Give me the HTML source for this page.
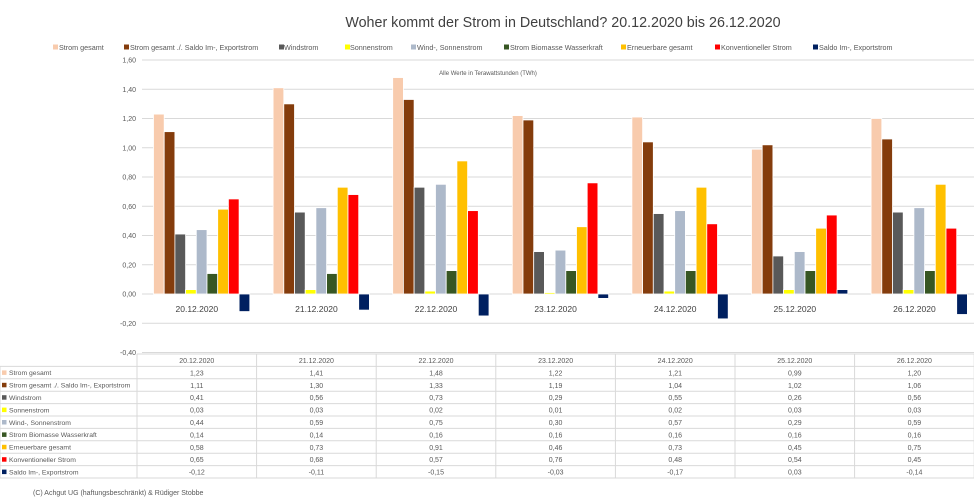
<!DOCTYPE html>
<html><head><meta charset="utf-8"><style>
html,body{margin:0;padding:0;background:#fff;width:974px;height:502px;overflow:hidden;font-family:"Liberation Sans",sans-serif}
svg text{font-family:"Liberation Sans",sans-serif;fill:#595959}
</style></head><body>
<svg id="s" width="974" height="502" xmlns="http://www.w3.org/2000/svg"></svg>
<script>
const s=document.getElementById('s');
let h='';
const cols=['#F8CBAD','#843C0C','#595959','#FFFF00','#ADB9CA','#375623','#FFC000','#FF0000','#002060'];
const names=['Strom gesamt','Strom gesamt ./. Saldo Im-, Exportstrom','Windstrom','Sonnenstrom','Wind-, Sonnenstrom','Strom Biomasse Wasserkraft','Erneuerbare gesamt','Konventioneller Strom','Saldo Im-, Exportstrom'];
const dates=['20.12.2020','21.12.2020','22.12.2020','23.12.2020','24.12.2020','25.12.2020','26.12.2020'];
const d=[[1.23,1.11,0.41,0.03,0.44,0.14,0.58,0.65,-0.12],[1.41,1.30,0.56,0.03,0.59,0.14,0.73,0.68,-0.11],[1.48,1.33,0.73,0.02,0.75,0.16,0.91,0.57,-0.15],[1.22,1.19,0.29,0.01,0.30,0.16,0.46,0.76,-0.03],[1.21,1.04,0.55,0.02,0.57,0.16,0.73,0.48,-0.17],[0.99,1.02,0.26,0.03,0.29,0.16,0.45,0.54,0.03],[1.20,1.06,0.56,0.03,0.59,0.16,0.75,0.45,-0.14]];
const f=v=>v.toFixed(2).replace('.',',');
h+='<text x="563" y="27" text-anchor="middle" font-size="14.3" style="fill:#404040">Woher kommt der Strom in Deutschland? 20.12.2020 bis 26.12.2020</text>';
const lx=[[53,59],[124,130],[279,284],[345,350],[411,417],[504,510],[621,627],[715,721],[813,819]];
lx.forEach((p,i)=>{h+=`<rect x="${p[0]}" y="44.5" width="5" height="5" fill="${cols[i]}"/><text x="${p[1]}" y="50" font-size="7.2">${names[i]}</text>`});
const z=294,k=146.25,x0=137,cw=119.6;
for(let i=0;i<=10;i++){const v=1.6-i*0.2,y=z-v*k;h+=`<line x1="142" x2="974" y1="${y}" y2="${y}" stroke="#d9d9d9" stroke-width="1"/><text x="136" y="${y+2.5}" text-anchor="end" font-size="7">${f(Math.abs(v)<1e-9?0:v)}</text>`}
h+='<text x="488" y="75" text-anchor="middle" font-size="6">Alle Werte in Terawattstunden (TWh)</text>';
d.forEach((r,c)=>{const cx=x0+c*cw;r.forEach((v,i)=>{const x=cx+16.5+i*10.7;const y=v>=0?z-v*k:z;h+=`<rect x="${x}" y="${y}" width="10.7" height="${Math.abs(v)*k}" fill="${cols[i]}" stroke="#fff" stroke-width="0.8"/>`});
h+=`<text x="${cx+cw/2}" y="312" text-anchor="middle" font-size="8.5" style="fill:#404040">${dates[c]}</text>`});
const ty=354,rh=12.4;
for(let j=0;j<=10;j++){const y=ty+j*rh;h+=`<line x1="${j==0?137:0}" x2="974" y1="${y}" y2="${y}" stroke="#d9d9d9"/>`}
for(let c=0;c<=7;c++){const x=x0+c*cw;h+=`<line x1="${x}" x2="${x}" y1="${ty}" y2="${ty+10*rh}" stroke="#d9d9d9"/>`}
h+=`<line x1="0" x2="0" y1="${ty+rh}" y2="${ty+10*rh}" stroke="#d9d9d9"/>`;
dates.forEach((t,c)=>{h+=`<text x="${x0+c*cw+cw/2}" y="${ty+9}" text-anchor="middle" font-size="7">${t}</text>`});
names.forEach((n,i)=>{const y=ty+(i+1)*rh;h+=`<rect x="2" y="${y+4}" width="4.5" height="4.5" fill="${cols[i]}"/><text x="9" y="${y+8.8}" font-size="6.8">${n}</text>`;
d.forEach((r,c)=>{h+=`<text x="${x0+c*cw+cw/2}" y="${y+9}" text-anchor="middle" font-size="7">${f(r[i])}</text>`})});
h+='<text x="33" y="495" font-size="7">(C) Achgut UG (haftungsbeschränkt) &amp; Rüdiger Stobbe</text>';
s.innerHTML=h;
</script>
</body></html>
